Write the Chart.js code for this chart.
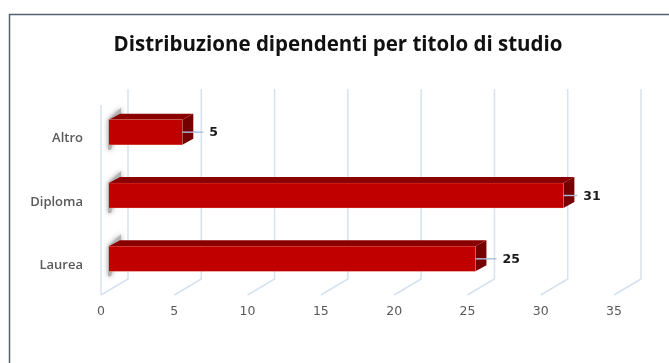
<!DOCTYPE html>
<html>
<head>
<meta charset="utf-8">
<style>
  html, body { margin: 0; background: #fff; }
  #wrap { position: absolute; left: 0; top: 0; width: 669px; height: 363px; }
  #c { filter: blur(0.45px); }
</style>
<script src="https://cdn.jsdelivr.net/npm/chart.js@4"></script>
</head>
<body>
<div id="wrap"><canvas id="c" width="669" height="363"></canvas></div>
<script>
const categories = ['Altro', 'Diploma', 'Laurea'];
const dipendenti = [5, 31, 25];
const xTicks = [0, 5, 10, 15, 20, 25, 30, 35];
const leaderLengths = [21, 14, 21];

const barShift = { x: 8, y: -4.5 };
const barDepth = { x: 11, y: -6 };
const wallDepth = { x: 27, y: -16 };

// cornice, pareti, ombre e fianchi 3D: tutto calcolato dalle scale del grafico
const bar3d = {
  id: 'bar3d',
  // il padding sinistro serve a centrare il titolo: le etichette non vanno tagliate
  afterLayout(chart) {
    chart.scales.y.left = 0;
  },
  beforeDraw(chart) {
    const ctx = chart.ctx;
    ctx.save();
    ctx.fillStyle = '#fff';
    ctx.fillRect(0, 0, chart.width, chart.height);
    ctx.strokeStyle = '#56616f';
    ctx.lineWidth = 1.5;
    ctx.beginPath();
    ctx.moveTo(9.5, 363);
    ctx.lineTo(9.5, 14.5);
    ctx.lineTo(669, 14.5);
    ctx.stroke();
    ctx.restore();
  },
  beforeDatasetsDraw(chart) {
    const ctx = chart.ctx, x = chart.scales.x, area = chart.chartArea;
    ctx.save();
    ctx.strokeStyle = '#d6e2f1';
    ctx.lineWidth = 1.5;
    xTicks.forEach(t => {
      const px = x.getPixelForValue(t);
      ctx.beginPath();
      ctx.moveTo(px, area.bottom);
      ctx.lineTo(px + wallDepth.x, area.bottom + wallDepth.y);
      ctx.lineTo(px + wallDepth.x, area.top + wallDepth.y);
      ctx.stroke();
    });
    const x0 = x.getPixelForValue(0);
    ctx.beginPath();
    ctx.moveTo(x0, area.bottom);
    ctx.lineTo(x0, area.top);
    ctx.stroke();

    chart.getDatasetMeta(0).data.forEach(bar => {
      const left = bar.base + barShift.x, right = bar.x + barShift.x;
      const top = bar.y - bar.height / 2 + barShift.y;
      const bottom = top + bar.height;
      // ombra sulla parete sinistra
      ctx.save();
      ctx.shadowColor = 'rgba(120,120,120,0.7)';
      ctx.shadowBlur = 5;
      ctx.fillStyle = '#b4b4b4';
      ctx.beginPath();
      ctx.moveTo(left - 1, top);
      ctx.lineTo(left + barDepth.x + 1, top + barDepth.y - 6);
      ctx.lineTo(left + barDepth.x + 1, top + barDepth.y + 2);
      ctx.lineTo(left + 2, bottom + 5);
      ctx.lineTo(left - 1, bottom + 5);
      ctx.closePath();
      ctx.fill();
      ctx.restore();
      // faccia superiore
      ctx.fillStyle = '#8a0000';
      ctx.beginPath();
      ctx.moveTo(left, top);
      ctx.lineTo(left + barDepth.x, top + barDepth.y);
      ctx.lineTo(right + barDepth.x, top + barDepth.y);
      ctx.lineTo(right, top);
      ctx.closePath();
      ctx.fill();
      // fianco destro
      ctx.fillStyle = '#760000';
      ctx.beginPath();
      ctx.moveTo(right, top);
      ctx.lineTo(right + barDepth.x, top + barDepth.y);
      ctx.lineTo(right + barDepth.x, bottom + barDepth.y);
      ctx.lineTo(right, bottom);
      ctx.closePath();
      ctx.fill();
    });
    ctx.restore();
  },
  beforeDatasetDraw(chart) {
    chart.ctx.save();
    chart.ctx.translate(barShift.x, barShift.y);
  },
  afterDatasetDraw(chart) {
    chart.ctx.restore();
  },
  afterDatasetsDraw(chart) {
    const ctx = chart.ctx;
    ctx.save();
    chart.getDatasetMeta(0).data.forEach((bar, i) => {
      const right = bar.x + barShift.x;
      const cy = bar.y + barShift.y;
      const end = right + leaderLengths[i];
      ctx.strokeStyle = '#a9bfdc';
      ctx.lineWidth = 1.4;
      ctx.beginPath();
      ctx.moveTo(right, cy);
      ctx.lineTo(end, cy);
      ctx.stroke();
      ctx.fillStyle = '#1a1a1a';
      ctx.font = 'bold 12.5px "DejaVu Sans"';
      ctx.textAlign = 'left';
      ctx.textBaseline = 'middle';
      ctx.fillText(String(dipendenti[i]), end + 6, cy + 1);
    });
    ctx.restore();
  }
};

new Chart(document.getElementById('c'), {
  type: 'bar',
  data: {
    labels: categories,
    datasets: [{
      data: dipendenti,
      backgroundColor: '#c00000',
      borderColor: '#e06a60',
      borderWidth: 0.6,
      barThickness: 25
    }]
  },
  options: {
    indexAxis: 'y',
    responsive: false,
    animation: false,
    layout: { padding: { left: 62, right: 55, top: 0, bottom: 0 } },
    plugins: {
      legend: { display: false },
      tooltip: { enabled: false },
      title: {
        display: true,
        text: 'Distribuzione dipendenti per titolo di studio',
        color: '#111',
        font: { family: '"Open Sans"', size: 20.5, weight: 'bold' },
        padding: { top: 33, bottom: 47.4 }
      }
    },
    scales: {
      x: {
        min: 0, max: 35,
        afterFit(s) { s.height = 68; },
        ticks: {
          stepSize: 5,
          maxRotation: 0,
          color: '#595959',
          font: { family: '"DejaVu Sans"', size: 12.5 },
          padding: 1
        },
        grid: { display: false },
        border: { display: false }
      },
      y: {
        afterFit(s) { s.width = 39; },
        ticks: {
          color: '#595959',
          font: { family: '"Open Sans"', size: 13, weight: '600' },
          padding: 10,
          labelOffset: 2
        },
        grid: { display: false },
        border: { display: false }
      }
    }
  },
  plugins: [bar3d]
});
</script>
</body>
</html>
